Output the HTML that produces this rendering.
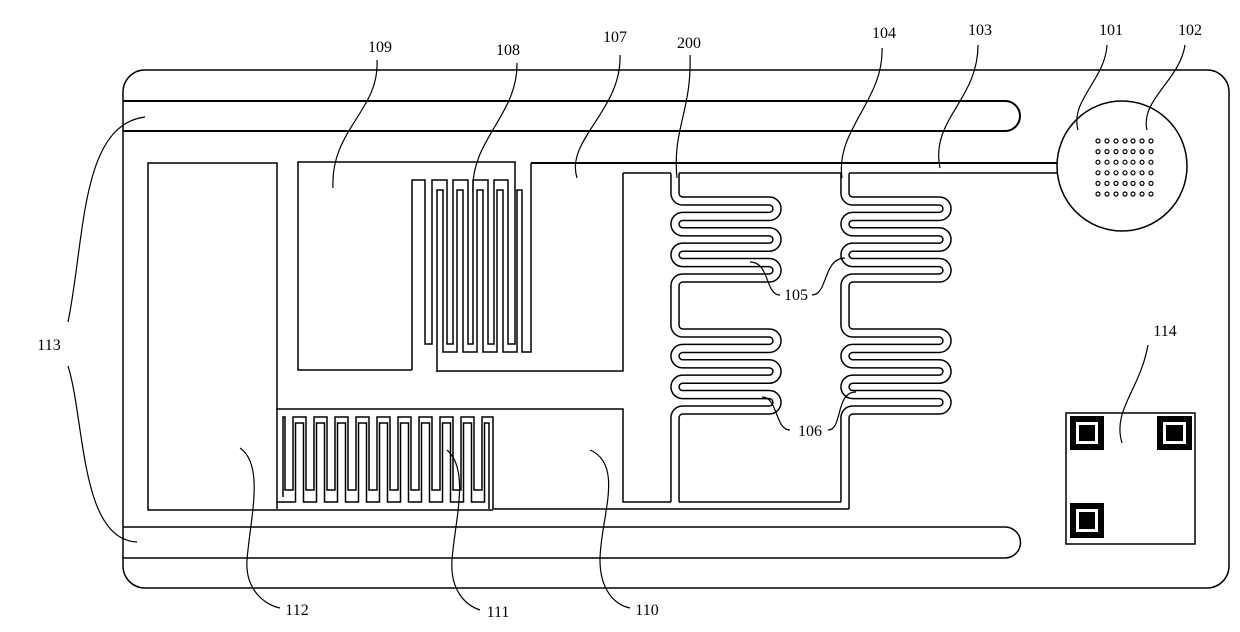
<!DOCTYPE html>
<html><head><meta charset="utf-8"><style>
html,body{margin:0;padding:0;background:#fff;}
svg{display:block}
text{font-family:"Liberation Serif",serif;font-size:16px;fill:#000}
</style></head><body>
<svg width="1240" height="632" viewBox="0 0 1240 632" xmlns="http://www.w3.org/2000/svg">
<defs>
<path id="s1" d="M675,173 V193.3 A7.7,7.7 0 0 0 682.7,201 H769.3 A7.7,7.7 0 0 1 769.3,216.4 H682.7 A7.7,7.7 0 0 0 682.7,231.8 H769.3 A7.7,7.7 0 0 1 769.3,247.2 H682.7 A7.7,7.7 0 0 0 682.7,262.6 H769.3 A7.7,7.7 0 0 1 769.3,278 H682.7 A7.7,7.7 0 0 0 675,285.7 V325.3 A7.7,7.7 0 0 0 682.7,333 H769.3 A7.7,7.7 0 0 1 769.3,348.4 H682.7 A7.7,7.7 0 0 0 682.7,363.8 H769.3 A7.7,7.7 0 0 1 769.3,379.2 H682.7 A7.7,7.7 0 0 0 682.7,394.6 H769.3 A7.7,7.7 0 0 1 769.3,410 H682.7 A7.7,7.7 0 0 0 675,417.7 V502"/>
</defs>
<g fill="none" stroke="#000" stroke-width="1.5">
<rect x="123" y="70" width="1106" height="518" rx="22" ry="22"/>
<path d="M123,101 H1005 A15,15 0 0 1 1005,131 H123" stroke-width="2"/>
<path d="M123,527 H1005 A15.5,15.5 0 0 1 1005,558 H123"/>
<circle cx="1122" cy="166" r="65"/>
<path d="M531,163 H1057" stroke-width="2"/>
<path d="M623,173 H671 M679,173 H841 M849,173 H1057"/>
<path d="M277,409 V163 H148 V510 H277"/>
<path d="M412,370 V180 H425 V344 H432 V180 H447 V344 H453 V180 H468 V344 H473 V180 H488 V344 H494 V180 H508 V344 H515 V162 H298 V370 H412"/>
<path d="M437,372 V190 H443 V352 H457 V190 H463 V352 H477 V190 H483 V352 H497 V190 H503 V352 H517 V190 H522 V352 H531 V163"/>
<path d="M437,371 H623 V173"/>
<path d="M277,509 V409 H623 V502 H671"/>
<path d="M283,497 V417 H285 V490 H293 V417 H306 V490 H314 V417 H327 V490 H335 V417 H348 V490 H356 V417 H369 V490 H377 V417 H390 V490 H398 V417 H411 V490 H419 V417 H432 V490 H440 V417 H453 V490 H461 V417 H474 V490 H482 V417 H493 V509"/>
<path d="M277,502 H295.5 V423 H303.5 V502 H316.5 V423 H324.5 V502 H337.5 V423 H345.5 V502 H358.5 V423 H366.5 V502 H379.5 V423 H387.5 V502 H400.5 V423 H408.5 V502 H421.5 V423 H429.5 V502 H442.5 V423 H450.5 V502 H463.5 V423 H471.5 V502 H484.5 V423 H489 V509"/>
<path d="M277,510 H493 M493,509 H849"/>
<path d="M679,502 H841"/>
<rect x="1066" y="413" width="129" height="131"/>
</g>
<g fill="none" stroke-linecap="butt">
<use href="#s1" stroke="#000" stroke-width="9.6"/>
<use href="#s1" stroke="#fff" stroke-width="6.6"/>
<use href="#s1" transform="translate(170,0)" stroke="#000" stroke-width="9.6"/>
<use href="#s1" transform="translate(170,0)" stroke="#fff" stroke-width="6.6"/>
</g>
<path d="M849,502 V509" stroke="#000" stroke-width="1.5"/>
<path d="M671.5,173 H678.5 M841.5,173 H848.5" stroke="#fff" stroke-width="2"/>
<g fill="none" stroke="#000" stroke-width="1.2">
<g id="row">
<circle cx="1098" cy="141" r="2"/><circle cx="1107" cy="141" r="2"/><circle cx="1116" cy="141" r="2"/><circle cx="1125" cy="141" r="2"/><circle cx="1133" cy="141" r="2"/><circle cx="1142" cy="141" r="2"/><circle cx="1151" cy="141" r="2"/>
</g>
<use href="#row" y="10.6"/><use href="#row" y="21.2"/><use href="#row" y="31.8"/><use href="#row" y="42.4"/><use href="#row" y="53"/>
</g>
<g>
<rect x="1070" y="416" width="34" height="34" fill="#000"/><rect x="1076" y="422" width="22" height="22" fill="#fff"/><rect x="1079" y="425" width="16" height="16" fill="#000"/>
<rect x="1157" y="416" width="35" height="34" fill="#000"/><rect x="1163" y="422" width="23" height="22" fill="#fff"/><rect x="1166" y="425" width="17" height="16" fill="#000"/>
<rect x="1070" y="503" width="34" height="35" fill="#000"/><rect x="1076" y="509" width="22" height="23" fill="#fff"/><rect x="1079" y="512" width="16" height="17" fill="#000"/>
</g>
<g fill="none" stroke="#000" stroke-width="1.2">
<path d="M377,60 C380,110 330,130 333,188"/>
<path d="M517,63 C518,115 470,140 473,192"/>
<path d="M620,55 C622,110 565,140 577,178"/>
<path d="M690,55 C692,110 672,130 677,178"/>
<path d="M882,48 C884,100 835,130 842,178"/>
<path d="M978,45 C978,100 930,120 940,168"/>
<path d="M1107,45 C1105,80 1070,100 1078,130"/>
<path d="M1185,45 C1180,80 1140,100 1147,130"/>
<path d="M68,322 C85,240 80,125 145,117"/>
<path d="M68,366 C85,420 80,540 137,542"/>
<path d="M1148,345 C1140,390 1112,410 1122,443"/>
<path d="M240,448 C265,465 250,520 247,560 C245,590 265,605 280,608"/>
<path d="M447,450 C470,470 455,520 452,560 C450,590 465,605 480,610"/>
<path d="M590,450 C625,465 600,520 600,560 C600,590 615,605 630,608"/>
<path d="M750,262 C770,262 765,295 780,295"/>
<path d="M812,295 C828,295 823,258 845,258"/>
<path d="M762,397 C778,397 775,430 790,430"/>
<path d="M828,430 C843,430 835,392 856,392"/>
</g>
<g text-anchor="middle">
<text x="380" y="52">109</text>
<text x="508" y="55">108</text>
<text x="615" y="42">107</text>
<text x="689" y="48">200</text>
<text x="884" y="38">104</text>
<text x="980" y="35">103</text>
<text x="1111" y="35">101</text>
<text x="1190" y="35">102</text>
<text x="49" y="350">113</text>
<text x="1165" y="336">114</text>
<text x="796" y="300">105</text>
<text x="810" y="436">106</text>
<text x="297" y="615">112</text>
<text x="498" y="617">111</text>
<text x="647" y="615">110</text>
</g>
</svg>
</body></html>
